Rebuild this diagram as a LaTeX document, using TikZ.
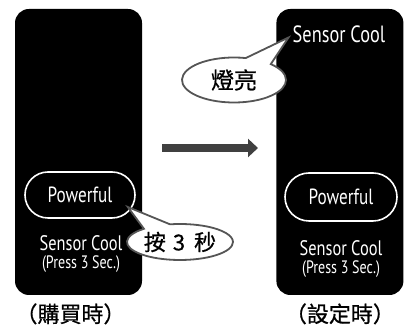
\documentclass[tikz,border=0pt]{standalone}
\usepackage{fontspec}
\setmainfont[FakeStretch=0.78]{PT Sans}
\newfontfamily\cjk[FakeBold=0.7]{Noto Sans CJK TC}
\usepackage{xcolor}
\usepackage{tikz}
\usetikzlibrary{positioning, arrows.meta, shapes.misc, shapes.callouts}
\definecolor{ink}{HTML}{000000}
\definecolor{bubbleline}{HTML}{555555}
\definecolor{arrowgray}{HTML}{404040}
\tikzset{
  panel/.style   = {rectangle, rounded corners=14pt, fill=ink,
                    minimum width=127pt, minimum height=286pt, inner sep=0pt},
  modekey/.style = {rounded rectangle, draw=white, line width=1.6pt, fill=ink,
                    text=white, minimum width=110pt, minimum height=46pt,
                    inner sep=0pt, font=\fontsize{22}{24}\selectfont},
  lcd/.style     = {text=white, align=center, inner sep=0pt,
                    font=\fontsize{21}{17.5}\selectfont},
  bubble/.style  = {ellipse callout, draw=bubbleline, line width=1.8pt, fill=white,
                    callout pointer arc=32, inner sep=0pt,
                    font=\cjk\fontsize{22}{24}\selectfont},
  caption/.style = {inner sep=0pt, font=\cjk\fontsize{22}{24}\selectfont},
  ar/.style      = {-{Triangle[length=10pt,width=18pt]}, line width=8pt, draw=arrowgray},
}

\begin{document}
\begin{tikzpicture}[x=1pt, y=1pt]

  \useasboundingbox (0,0) rectangle (404,336);

  % ----- before (left panel) -----
  \node[panel] (before) at (78.5,184) {};
  \node[modekey] (pwbefore) at (80,141) {Powerful};
  \node[lcd] (scbefore) at (81,82)
       {Sensor Cool \\ \fontsize{18}{17.5}\selectfont (Press 3 Sec.)};
  \node[caption, below=8pt of before, xshift=-8pt] (capbefore) {（購買時）};

  % ----- after (right panel) -----
  \node[panel, right=134pt of before] (after) {};
  \node[lcd, font=\fontsize{23.5}{25}\selectfont] (sctop) at (339,301.5) {Sensor Cool};
  \node[modekey, minimum width=112pt, minimum height=48pt] (pwafter) at (341,139) {Powerful};
  \node[lcd] (scafter) at (341,77)
       {Sensor Cool \\ \fontsize{18}{17.5}\selectfont (Press 3 Sec.)};
  \node[caption, below=8pt of after] (capafter) {（設定時）};

  % ----- arrow -----
  \coordinate (arrfrom) at (162,188);
  \coordinate (arrto) at (258,188);
  \draw[ar] (arrfrom) -- (arrto);

  % ----- callouts -----
  \coordinate (tippress) at ([xshift=-8pt, yshift=-12pt]pwbefore.east);
  \node[bubble, minimum width=106pt, minimum height=36pt,
        callout absolute pointer={(tippress)}] (press) at (180,94)
       {按\hspace{7pt}3\hspace{9pt}秒};

  \coordinate (tiplit) at ([xshift=-4pt, yshift=-3pt]sctop.west);
  \node[bubble, minimum width=104pt, minimum height=45pt, font=\cjk\fontsize{23}{25}\selectfont,
        callout absolute pointer={(tiplit)}] (lit) at (234,256) {燈亮};

\end{tikzpicture}
\end{document}
